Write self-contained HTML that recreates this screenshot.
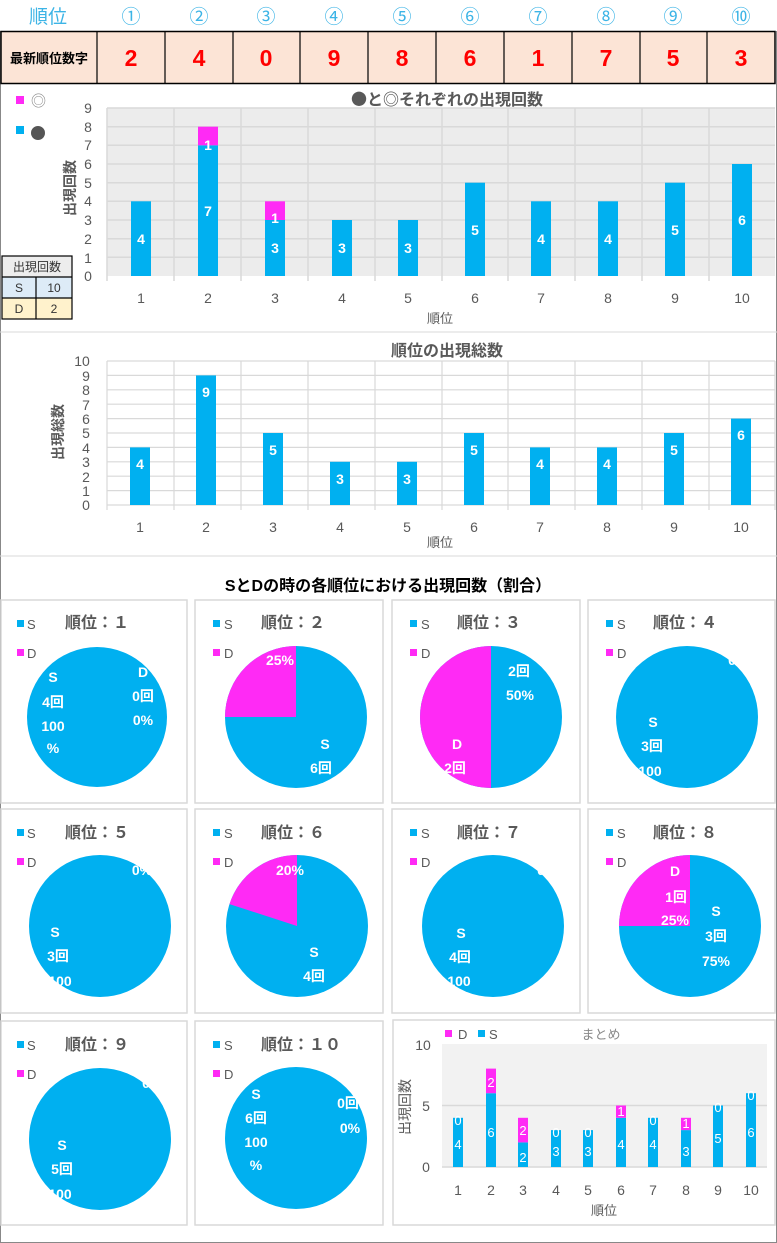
<!DOCTYPE html>
<html><head><meta charset="utf-8"><style>
html,body{margin:0;padding:0;background:#fff;}
svg{display:block;font-family:"Liberation Sans","Noto Sans CJK JP",sans-serif;}
.w{fill:#fff;font-weight:bold;font-size:14px;text-anchor:middle}
.ax{fill:#595959;font-size:14px;text-anchor:middle}
.t{fill:#595959;font-size:16px;font-weight:bold}
.lg{fill:#595959;font-size:13px}
.cjk{font-family:"Noto Sans CJK JP",sans-serif}
</style></head><body>
<svg width="777" height="1243" viewBox="0 0 777 1243" xmlns="http://www.w3.org/2000/svg">
<rect x="0.5" y="0.5" width="776" height="1242" fill="none" stroke="#888"/>
<rect x="0" y="0" width="777" height="31" fill="#fff"/>
<g font-size="19" fill="#3cb4e6" text-anchor="middle">
<text x="48" y="23">順位</text>
<text x="131" y="23">①</text><text x="199" y="23">②</text><text x="266" y="23">③</text><text x="334" y="23">④</text><text x="402" y="23">⑤</text><text x="470" y="23">⑥</text><text x="538" y="23">⑦</text><text x="606" y="23">⑧</text><text x="673" y="23">⑨</text><text x="741" y="23">⑩</text>
</g>
<rect x="1" y="31.5" width="774" height="52" fill="#fce4d6" stroke="#000" stroke-width="1.5"/>
<g stroke="#000" stroke-width="1.2">
<line x1="97" y1="31" x2="97" y2="83"/><line x1="165" y1="31" x2="165" y2="83"/><line x1="233" y1="31" x2="233" y2="83"/><line x1="300" y1="31" x2="300" y2="83"/><line x1="368" y1="31" x2="368" y2="83"/><line x1="436" y1="31" x2="436" y2="83"/><line x1="504" y1="31" x2="504" y2="83"/><line x1="572" y1="31" x2="572" y2="83"/><line x1="640" y1="31" x2="640" y2="83"/><line x1="707" y1="31" x2="707" y2="83"/>
</g>
<text x="49" y="63" font-size="13" font-weight="bold" text-anchor="middle" fill="#000">最新順位数字</text>
<g font-size="23" font-weight="bold" fill="#ff0000" text-anchor="middle">
<text x="131" y="66">2</text><text x="199" y="66">4</text><text x="266" y="66">0</text><text x="334" y="66">9</text><text x="402" y="66">8</text><text x="470" y="66">6</text><text x="538" y="66">1</text><text x="606" y="66">7</text><text x="673" y="66">5</text><text x="741" y="66">3</text>
</g>

<line x1="0" y1="332" x2="777" y2="332" stroke="#d9d9d9"/>
<rect x="107" y="108" width="668" height="168" fill="#ececec"/>
<g stroke="#d9d9d9" stroke-width="1.5">
<line x1="107" y1="257.3" x2="775" y2="257.3"/><line x1="107" y1="238.7" x2="775" y2="238.7"/><line x1="107" y1="220" x2="775" y2="220"/><line x1="107" y1="201.3" x2="775" y2="201.3"/><line x1="107" y1="182.7" x2="775" y2="182.7"/><line x1="107" y1="164" x2="775" y2="164"/><line x1="107" y1="145.3" x2="775" y2="145.3"/><line x1="107" y1="126.7" x2="775" y2="126.7"/><line x1="107" y1="108" x2="775" y2="108"/>
<line x1="174" y1="108" x2="174" y2="281"/><line x1="241" y1="108" x2="241" y2="281"/><line x1="308" y1="108" x2="308" y2="281"/><line x1="375" y1="108" x2="375" y2="281"/><line x1="442" y1="108" x2="442" y2="281"/><line x1="508" y1="108" x2="508" y2="281"/><line x1="575" y1="108" x2="575" y2="281"/><line x1="642" y1="108" x2="642" y2="281"/><line x1="709" y1="108" x2="709" y2="281"/><line x1="107" y1="108" x2="107" y2="281"/>
</g>
<g fill="#00b0f0">
<rect x="131" y="201.3" width="20" height="74.7"/><rect x="198" y="145.3" width="20" height="130.7"/><rect x="265" y="220" width="20" height="56"/><rect x="332" y="220" width="20" height="56"/><rect x="398" y="220" width="20" height="56"/><rect x="465" y="182.7" width="20" height="93.3"/><rect x="531" y="201.3" width="20" height="74.7"/><rect x="598" y="201.3" width="20" height="74.7"/><rect x="665" y="182.7" width="20" height="93.3"/><rect x="732" y="164" width="20" height="112"/>
</g>
<g fill="#ff2af5"><rect x="198" y="126.7" width="20" height="18.6"/><rect x="265" y="201.3" width="20" height="18.7"/></g>
<g class="w">
<text x="141" y="244">4</text><text x="208" y="216">7</text><text x="208" y="150">1</text><text x="275" y="253">3</text><text x="275" y="223">1</text><text x="342" y="253">3</text><text x="408" y="253">3</text><text x="475" y="235">5</text><text x="541" y="244">4</text><text x="608" y="244">4</text><text x="675" y="235">5</text><text x="742" y="225">6</text>
</g>
<g class="ax" font-size="15">
<text x="88" y="281">0</text><text x="88" y="263">1</text><text x="88" y="244">2</text><text x="88" y="225">3</text><text x="88" y="206">4</text><text x="88" y="188">5</text><text x="88" y="169">6</text><text x="88" y="150">7</text><text x="88" y="132">8</text><text x="88" y="113">9</text>
</g>
<g class="ax">
<text x="141" y="303">1</text><text x="208" y="303">2</text><text x="275" y="303">3</text><text x="342" y="303">4</text><text x="408" y="303">5</text><text x="475" y="303">6</text><text x="541" y="303">7</text><text x="608" y="303">8</text><text x="675" y="303">9</text><text x="742" y="303">10</text>
<text x="440" y="323" font-size="13">順位</text>
</g>
<text x="0" y="0" class="ax" font-size="13" font-weight="bold" transform="translate(75,188) rotate(-90)">出現回数</text>
<text x="447" y="105" class="t" text-anchor="middle"><tspan class="cjk">●</tspan>と◎それぞれの出現回数</text>
<rect x="16" y="96" width="8" height="8" fill="#ff2af5"/><text x="31" y="106" font-size="15" fill="#888">◎</text>
<rect x="16" y="126" width="8" height="8" fill="#00b0f0"/><circle cx="38" cy="133" r="7" fill="#555"/>
<rect x="2" y="256" width="70" height="21" fill="#ededed"/>
<rect x="2" y="277" width="70" height="21" fill="#ddebf7"/>
<rect x="2" y="298" width="70" height="21" fill="#fff2cc"/>
<g stroke="#000" fill="none" stroke-width="1.2"><rect x="2" y="256" width="70" height="63"/><line x1="2" y1="277" x2="72" y2="277"/><line x1="2" y1="298" x2="72" y2="298"/><line x1="36" y1="277" x2="36" y2="319"/></g>
<g font-size="12" fill="#333" text-anchor="middle"><text x="37" y="271">出現回数</text><text x="19" y="292">S</text><text x="54" y="292">10</text><text x="19" y="313">D</text><text x="54" y="313">2</text></g>

<line x1="0" y1="556" x2="777" y2="556" stroke="#d9d9d9"/>
<g stroke="#d9d9d9" stroke-width="1.2">
<line x1="107" y1="490.6" x2="775" y2="490.6"/><line x1="107" y1="476.2" x2="775" y2="476.2"/><line x1="107" y1="461.8" x2="775" y2="461.8"/><line x1="107" y1="447.4" x2="775" y2="447.4"/><line x1="107" y1="433" x2="775" y2="433"/><line x1="107" y1="418.6" x2="775" y2="418.6"/><line x1="107" y1="404.2" x2="775" y2="404.2"/><line x1="107" y1="389.8" x2="775" y2="389.8"/><line x1="107" y1="375.4" x2="775" y2="375.4"/><line x1="107" y1="361" x2="775" y2="361"/><line x1="107" y1="505" x2="775" y2="505"/>
<line x1="107" y1="361" x2="107" y2="510"/><line x1="174" y1="361" x2="174" y2="510"/><line x1="241" y1="361" x2="241" y2="510"/><line x1="308" y1="361" x2="308" y2="510"/><line x1="375" y1="361" x2="375" y2="510"/><line x1="442" y1="361" x2="442" y2="510"/><line x1="508" y1="361" x2="508" y2="510"/><line x1="575" y1="361" x2="575" y2="510"/><line x1="642" y1="361" x2="642" y2="510"/><line x1="709" y1="361" x2="709" y2="510"/><line x1="775" y1="361" x2="775" y2="510"/>
</g>
<g fill="#00b0f0">
<rect x="130" y="447.4" width="20" height="57.6"/><rect x="196" y="375.4" width="20" height="129.6"/><rect x="263" y="433" width="20" height="72"/><rect x="330" y="461.8" width="20" height="43.2"/><rect x="397" y="461.8" width="20" height="43.2"/><rect x="464" y="433" width="20" height="72"/><rect x="530" y="447.4" width="20" height="57.6"/><rect x="597" y="447.4" width="20" height="57.6"/><rect x="664" y="433" width="20" height="72"/><rect x="731" y="418.6" width="20" height="86.4"/>
</g>
<g class="w">
<text x="140" y="469">4</text><text x="206" y="397">9</text><text x="273" y="455">5</text><text x="340" y="484">3</text><text x="407" y="484">3</text><text x="474" y="455">5</text><text x="540" y="469">4</text><text x="607" y="469">4</text><text x="674" y="455">5</text><text x="741" y="440">6</text>
</g>
<g class="ax" font-size="15">
<text x="86" y="510">0</text><text x="86" y="496">1</text><text x="86" y="482">2</text><text x="86" y="467">3</text><text x="86" y="453">4</text><text x="86" y="438">5</text><text x="86" y="424">6</text><text x="86" y="410">7</text><text x="86" y="395">8</text><text x="86" y="381">9</text><text x="82" y="366">10</text>
</g>
<g class="ax">
<text x="140" y="532">1</text><text x="206" y="532">2</text><text x="273" y="532">3</text><text x="340" y="532">4</text><text x="407" y="532">5</text><text x="474" y="532">6</text><text x="540" y="532">7</text><text x="607" y="532">8</text><text x="674" y="532">9</text><text x="741" y="532">10</text>
<text x="440" y="547" font-size="13">順位</text>
</g>
<text x="0" y="0" class="ax" font-size="13" font-weight="bold" transform="translate(63,432) rotate(-90)">出現総数</text>
<text x="447" y="356" class="t" text-anchor="middle">順位の出現総数</text>

<text x="388" y="591" font-size="16" font-weight="bold" fill="#000" text-anchor="middle">SとDの時の各順位における出現回数（割合）</text>

<g fill="none" stroke="#d9d9d9" stroke-width="1.5">
<rect x="1" y="600" width="186" height="203"/><rect x="195" y="600" width="188" height="203"/><rect x="392" y="600" width="188" height="203"/><rect x="588" y="600" width="187" height="203"/>
<rect x="1" y="809" width="186" height="204"/><rect x="195" y="809" width="188" height="204"/><rect x="392" y="809" width="188" height="204"/><rect x="588" y="809" width="187" height="204"/>
<rect x="1" y="1021" width="186" height="204"/><rect x="195" y="1021" width="188" height="204"/><rect x="393" y="1020" width="382" height="205"/>
</g>

<g>
<rect x="17" y="620" width="7" height="7" fill="#00b0f0"/><text x="27" y="629" class="lg">S</text><rect x="17" y="649" width="7" height="7" fill="#ff2af5"/><text x="27" y="658" class="lg">D</text>
<rect x="213" y="620" width="7" height="7" fill="#00b0f0"/><text x="224" y="629" class="lg">S</text><rect x="213" y="649" width="7" height="7" fill="#ff2af5"/><text x="224" y="658" class="lg">D</text>
<rect x="410" y="620" width="7" height="7" fill="#00b0f0"/><text x="421" y="629" class="lg">S</text><rect x="410" y="649" width="7" height="7" fill="#ff2af5"/><text x="421" y="658" class="lg">D</text>
<rect x="606" y="620" width="7" height="7" fill="#00b0f0"/><text x="617" y="629" class="lg">S</text><rect x="606" y="649" width="7" height="7" fill="#ff2af5"/><text x="617" y="658" class="lg">D</text>
<rect x="17" y="829" width="7" height="7" fill="#00b0f0"/><text x="27" y="838" class="lg">S</text><rect x="17" y="858" width="7" height="7" fill="#ff2af5"/><text x="27" y="867" class="lg">D</text>
<rect x="213" y="829" width="7" height="7" fill="#00b0f0"/><text x="224" y="838" class="lg">S</text><rect x="213" y="858" width="7" height="7" fill="#ff2af5"/><text x="224" y="867" class="lg">D</text>
<rect x="410" y="829" width="7" height="7" fill="#00b0f0"/><text x="421" y="838" class="lg">S</text><rect x="410" y="858" width="7" height="7" fill="#ff2af5"/><text x="421" y="867" class="lg">D</text>
<rect x="606" y="829" width="7" height="7" fill="#00b0f0"/><text x="617" y="838" class="lg">S</text><rect x="606" y="858" width="7" height="7" fill="#ff2af5"/><text x="617" y="867" class="lg">D</text>
<rect x="17" y="1041" width="7" height="7" fill="#00b0f0"/><text x="27" y="1050" class="lg">S</text><rect x="17" y="1070" width="7" height="7" fill="#ff2af5"/><text x="27" y="1079" class="lg">D</text>
<rect x="213" y="1041" width="7" height="7" fill="#00b0f0"/><text x="224" y="1050" class="lg">S</text><rect x="213" y="1070" width="7" height="7" fill="#ff2af5"/><text x="224" y="1079" class="lg">D</text>
</g>
<g class="t" font-size="17">
<text x="65" y="628">順位：１</text><text x="261" y="628">順位：２</text><text x="457" y="628">順位：３</text><text x="653" y="628">順位：４</text>
<text x="65" y="838">順位：５</text><text x="261" y="838">順位：６</text><text x="457" y="838">順位：７</text><text x="653" y="838">順位：８</text>
<text x="65" y="1050">順位：９</text><text x="261" y="1050">順位：１０</text>
</g>

<g fill="#00b0f0">
<circle cx="97" cy="717" r="70"/><circle cx="296" cy="717" r="71"/><circle cx="491" cy="717" r="71"/><circle cx="687" cy="717" r="71"/>
<circle cx="100" cy="926" r="71"/><circle cx="297" cy="926" r="71"/><circle cx="493" cy="926" r="71"/><circle cx="690" cy="926" r="71"/>
<circle cx="100" cy="1139" r="71"/><circle cx="296" cy="1138" r="71"/>
</g>
<g fill="#ff2af5">
<path d="M296 717 L225 717 A71 71 0 0 1 296 646 Z"/>
<path d="M491 646 A71 71 0 0 0 491 788 Z"/>
<path d="M297 926 L229.5 904.1 A71 71 0 0 1 297 855 Z"/>
<path d="M690 926 L619 926 A71 71 0 0 1 690 855 Z"/>
</g>
<g class="w">
<text x="53" y="682">S</text><text x="53" y="707">4回</text><text x="53" y="731">100</text><text x="53" y="753">%</text>
<text x="143" y="677">D</text><text x="143" y="701">0回</text><text x="143" y="725">0%</text>
<text x="280" y="665">25%</text><text x="325" y="749">S</text><text x="321" y="773">6回</text>
<text x="519" y="676">2回</text><text x="520" y="700">50%</text><text x="457" y="749">D</text><text x="455" y="773">2回</text>
<text x="732" y="665">0</text><text x="653" y="727">S</text><text x="652" y="751">3回</text><text x="650" y="776">100</text>
<text x="142" y="875">0%</text><text x="55" y="937">S</text><text x="58" y="961">3回</text><text x="60" y="986">100</text>
<text x="290" y="875">20%</text><text x="314" y="957">S</text><text x="314" y="981">4回</text>
<text x="541" y="875">0</text><text x="461" y="938">S</text><text x="460" y="962">4回</text><text x="459" y="986">100</text>
<text x="675" y="876">D</text><text x="676" y="902">1回</text><text x="675" y="925">25%</text><text x="716" y="916">S</text><text x="716" y="941">3回</text><text x="716" y="966">75%</text>
<text x="146" y="1088">0</text><text x="62" y="1150">S</text><text x="62" y="1174">5回</text><text x="60" y="1199">100</text>
<text x="256" y="1099">S</text><text x="256" y="1123">6回</text><text x="256" y="1147">100</text><text x="256" y="1170">%</text>
<text x="348" y="1108">0回</text><text x="350" y="1133">0%</text>
</g>

<rect x="442" y="1044" width="325" height="123" fill="#f2f2f2"/>
<line x1="442" y1="1105.5" x2="767" y2="1105.5" stroke="#d9d9d9" stroke-width="1.5"/>
<line x1="442" y1="1167" x2="767" y2="1167" stroke="#d9d9d9" stroke-width="1.5"/>
<g fill="#00b0f0">
<rect x="453" y="1117.8" width="10" height="49.2"/><rect x="486" y="1093.2" width="10" height="73.8"/><rect x="518" y="1142.4" width="10" height="24.6"/><rect x="551" y="1130.1" width="10" height="36.9"/><rect x="583" y="1130.1" width="10" height="36.9"/><rect x="616" y="1117.8" width="10" height="49.2"/><rect x="648" y="1117.8" width="10" height="49.2"/><rect x="681" y="1130.1" width="10" height="36.9"/><rect x="713" y="1105.5" width="10" height="61.5"/><rect x="746" y="1093.2" width="10" height="73.8"/>
</g>
<g fill="#ff2af5">
<rect x="486" y="1068.6" width="10" height="24.6"/><rect x="518" y="1117.8" width="10" height="24.6"/><rect x="616" y="1105.5" width="10" height="12.3"/><rect x="681" y="1117.8" width="10" height="12.3"/>
</g>
<g fill="#fff" font-size="13" text-anchor="middle">
<text x="458" y="1149">4</text><text x="458" y="1125">0</text><text x="491" y="1137">6</text><text x="491" y="1087">2</text><text x="523" y="1162">2</text><text x="523" y="1135">2</text><text x="556" y="1156">3</text><text x="556" y="1137">0</text><text x="588" y="1156">3</text><text x="588" y="1137">0</text><text x="621" y="1149">4</text><text x="621" y="1116">1</text><text x="653" y="1149">4</text><text x="653" y="1125">0</text><text x="686" y="1156">3</text><text x="686" y="1128">1</text><text x="718" y="1143">5</text><text x="718" y="1112">0</text><text x="751" y="1137">6</text><text x="751" y="1100">0</text>
</g>
<g class="ax" font-size="14">
<text x="423" y="1050">10</text><text x="426" y="1111">5</text><text x="426" y="1172">0</text>
<text x="458" y="1195">1</text><text x="491" y="1195">2</text><text x="523" y="1195">3</text><text x="556" y="1195">4</text><text x="588" y="1195">5</text><text x="621" y="1195">6</text><text x="653" y="1195">7</text><text x="686" y="1195">8</text><text x="718" y="1195">9</text><text x="751" y="1195">10</text>
<text x="604" y="1215" font-size="13">順位</text>
</g>
<text x="0" y="0" class="ax" font-size="12" transform="translate(410,1107) rotate(-90)">出現回数</text>
<rect x="445" y="1030" width="7" height="7" fill="#ff2af5"/><text x="458" y="1039" class="lg">D</text>
<rect x="478" y="1030" width="7" height="7" fill="#00b0f0"/><text x="489" y="1039" class="lg">S</text>
<text x="601" y="1039" fill="#888" font-size="13" text-anchor="middle">まとめ</text>
</svg>
</body></html>
